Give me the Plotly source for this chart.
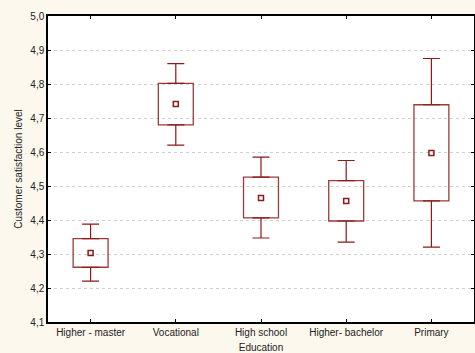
import plotly.graph_objects as go

categories = ["Higher - master", "Vocational", "High school", "Higher- bachelor", "Primary"]
means = [4.303, 4.741, 4.465, 4.456, 4.597]
box_low = [4.261, 4.680, 4.406, 4.397, 4.456]
box_high = [4.345, 4.802, 4.526, 4.516, 4.739]
whisk_low = [4.220, 4.620, 4.347, 4.335, 4.320]
whisk_high = [4.388, 4.860, 4.585, 4.575, 4.875]

red = "#8B1A1A"
box_red = "#9E3A3A"
fig = go.Figure()
# boxes (mean ± SE style) drawn as floating bars
fig.add_trace(go.Bar(
    x=categories, base=box_low, y=[h - l for h, l in zip(box_high, box_low)],
    width=0.41, marker=dict(color="rgba(255,255,255,0)", line=dict(color=box_red, width=1.3)),
    hoverinfo="skip", showlegend=False))
# upper whiskers
fig.add_trace(go.Scatter(
    x=categories, y=box_high, mode="markers", marker=dict(size=0.1, opacity=0),
    error_y=dict(type="data", symmetric=False,
                 array=[w - h for w, h in zip(whisk_high, box_high)],
                 arrayminus=[0] * len(categories),
                 color=red, thickness=1.2, width=8.5),
    hoverinfo="skip", showlegend=False))
# lower whiskers
fig.add_trace(go.Scatter(
    x=categories, y=box_low, mode="markers", marker=dict(size=0.1, opacity=0),
    error_y=dict(type="data", symmetric=False,
                 array=[0] * len(categories),
                 arrayminus=[l - w for l, w in zip(box_low, whisk_low)],
                 color=red, thickness=1.2, width=8.5),
    hoverinfo="skip", showlegend=False))
# means
fig.add_trace(go.Scatter(
    x=categories, y=means, mode="markers",
    marker=dict(symbol="square-open", size=5, color=red, line=dict(width=1.5, color=red)),
    showlegend=False))

fig.update_layout(
    width=475, height=353,
    margin=dict(l=48, r=1, t=16, b=31),
    paper_bgcolor="#FDF8EE", plot_bgcolor="white",
    separators=", ",
    font=dict(family="Liberation Sans, Arial, sans-serif", size=9, color="#222"),
)
fig.update_xaxes(
    type="category", range=[-0.5, 4.5], automargin=False,
    showline=True, linecolor="black", linewidth=1.5, mirror="ticks",
    ticks="inside", ticklen=3, tickcolor="black", showgrid=False,
    tickfont=dict(size=10),
    title=dict(text="Education", font=dict(size=10), standoff=10))
fig.update_yaxes(
    range=[4.1, 5.0], dtick=0.1, tick0=4.1, tickformat=".1f", automargin=False,
    showline=True, linecolor="black", linewidth=1.5, mirror="ticks",
    ticks="inside", ticklen=3, tickcolor="black",
    showgrid=True, gridcolor="#d0d0d0", griddash="dot", gridwidth=1,
    tickfont=dict(size=10), zeroline=False,
    title=dict(text="Customer satisfaction level", font=dict(size=10), standoff=6))

fig.write_html("out.html", config={"displayModeBar": False},
               post_script="document.body.style.margin='0';document.body.style.overflow='hidden';")
